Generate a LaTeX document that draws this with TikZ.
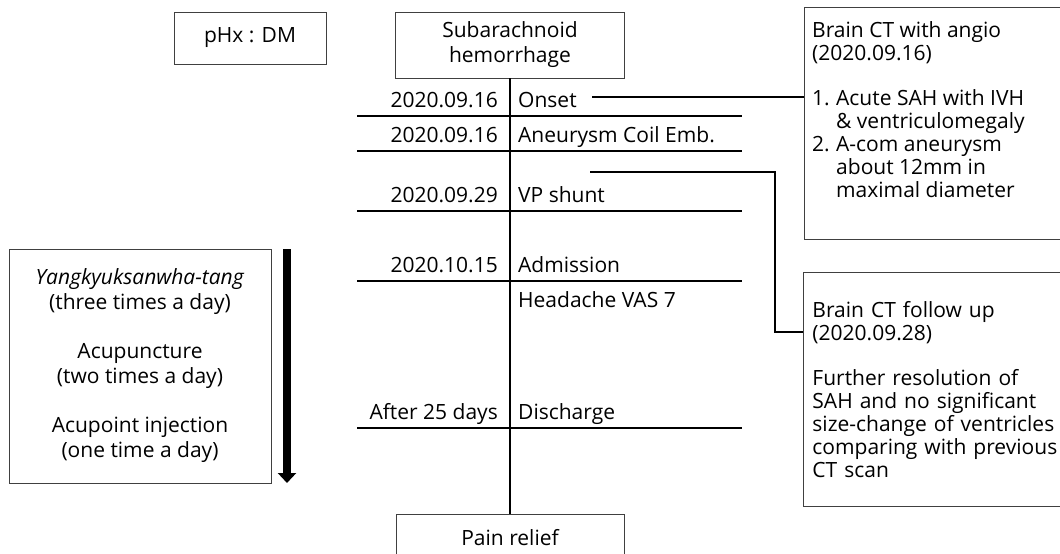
\documentclass[tikz,border=0pt]{standalone}
\usepackage{fontspec}
\setmainfont{Open Sans}
\usetikzlibrary{arrows.meta,positioning}
\newcommand{\itemno}[1]{\makebox[24pt][l]{#1}}

\begin{document}
\begin{tikzpicture}[x=1pt,y=-1pt,
    box/.style={draw=black!75,line width=0.9pt,inner sep=0pt},
    txt/.style={font=\fontsize{21}{25}\selectfont,inner sep=0pt},
    note/.style={font=\fontsize{21}{23}\selectfont,align=left,inner sep=0pt},
    rule/.style={line width=1.1pt},
    timearrow/.style={line width=8pt,-{Triangle[width=18pt,length=10pt]}}]
  \useasboundingbox (0,0) rectangle (1060,554);
  % past history
  \node[box,txt,minimum width=152,minimum height=52] (phx) at (250,38) {pHx : DM};
  % time line
  \node[box,txt,align=center,minimum width=229,minimum height=66] (sah) at (510,45) {Subarachnoid\\hemorrhage};
  \node[box,txt,minimum width=228,minimum height=48] (pain) at (510,538) {Pain relief};
  \draw[rule] (sah.south) -- (pain.north);
  \foreach \y in {116,151,211,281,428}
    \draw[rule] (357,\y) -- (742,\y);
  \foreach \y/\d [count=\i] in {107/2020.09.16,142/2020.09.16,202/2020.09.29,272/2020.10.15,419/After 25 days}
    \node[txt,anchor=base east] (date\i) at (498,\y) {\d};
  \foreach \y/\e [count=\i] in {107/Onset,142/Aneurysm Coil Emb.,202/VP shunt,272/Admission,307/Headache VAS 7,419/Discharge}
    \node[txt,anchor=base west] (ev\i) at (518,\y) {\e};
  % brain CT boxes
  \node[box,minimum width=262,minimum height=232,anchor=north west] (ct1) at (804,7) {};
  \node[note,anchor=north west] (ct1txt) at (812,21) {Brain CT with angio\\(2020.09.16)\\[22pt]
    \itemno{1.}Acute SAH with IVH\\\hspace*{24pt}\& ventriculomegaly\\
    \itemno{2.}A-com aneurysm\\\hspace*{24pt}about 12mm in\\\hspace*{24pt}maximal diameter};
  \node[box,note,text width=250,inner xsep=9pt,minimum height=234,anchor=north west] (ct2) at (803,272)
    {Brain CT follow up\\(2020.09.28)\\[22pt]Further resolution of\\SAH and no significant\\size-change of ventricles\\comparing with previous\\CT scan};
  \coordinate (c1) at (592,97);
  \draw[rule] (c1) -- (c1 -| ct1.west);
  \coordinate (c2) at (590,172);
  \coordinate (k2) at (775,332);
  \draw[rule] (c2) -| (k2) -- (k2 -| ct2.west);
  % treatment
  \node[box,txt,align=center,minimum width=262,minimum height=234] (herb) at (140,366)
    {\textit{Yangkyuksanwha-tang}\\(three times a day)\\[24pt]Acupuncture\\(two times a day)\\[24pt]Acupoint injection\\(one time a day)};
  \coordinate (t0) at (287,249);
  \coordinate (t1) at (287,483);
  \draw[timearrow] (t0) -- (t1);
\end{tikzpicture}
\end{document}
